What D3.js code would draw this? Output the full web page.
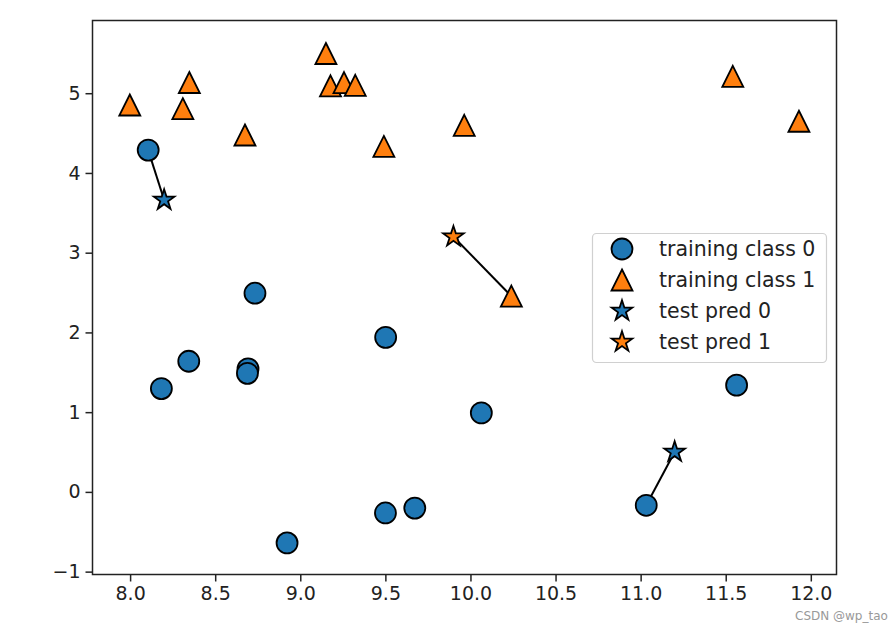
<!DOCTYPE html>
<html><head><meta charset="utf-8">
<script src="https://cdn.jsdelivr.net/npm/d3@7"></script>
<style>body{margin:0;background:#fff}text{font-family:"DejaVu Sans",sans-serif}</style>
</head><body><svg id="c" width="890" height="631"></svg>
<script>
const trainX = [9.96346605,11.0329545,11.54155807,8.69289001,8.1062269,8.30988863,11.93027136,9.67284681,8.34810316,8.67494727,9.17748385,10.24028948,8.68937095,8.92229526,9.49123469,9.25694192,7.99815287,8.18378052,8.7337095,9.32298256,10.06393839,9.50048972,8.34468785,9.50169345,9.15072323,11.563957];
const trainY = [4.59676542,-0.16816717,5.21116083,1.54322016,4.28695977,4.80623966,4.64866327,-0.20283165,5.13415623,4.47573059,5.09283177,2.45544401,1.48709629,-0.63993225,4.33224792,5.13284858,4.8525051,1.29564214,2.49162431,5.09840649,0.99078055,-0.26430318,1.63824349,1.93824624,5.49832246,1.3389402];
const trainClass = [1,0,1,0,0,1,1,0,1,1,1,1,0,0,1,1,1,0,0,1,0,0,0,0,1,0];
const testX = [8.2, 9.9, 11.2];
const testY = [3.66, 3.2, 0.5];
const testPred = [0, 1, 0];
const neighborIdx = [4, 11, 1];
const xTicks = [8.0,8.5,9.0,9.5,10.0,10.5,11.0,11.5,12.0];
const yTicks = [-1,0,1,2,3,4,5];
const legendLabels = ["training class 0","training class 1","test pred 0","test pred 1"];
const colors = ["#1f77b4","#ff7f0e"];

const L=92.5,R=836.5,T=20.5,B=574.5;
const x = d3.scaleLinear().domain([7.779,12.151]).range([L,R]);
const y = d3.scaleLinear().domain([-1.036,5.912]).range([B,T]);
const svg = d3.select("#c");

const xa = svg.append("g").attr("transform",`translate(0,${B})`)
  .call(d3.axisBottom(x).tickValues(xTicks).tickFormat(d3.format(".1f")).tickSize(7).tickPadding(5));
const ya = svg.append("g").attr("transform",`translate(${L},0)`)
  .call(d3.axisLeft(y).tickValues(yTicks).tickFormat(d=>d<0?"\u2212"+Math.abs(d):d).tickSize(7).tickPadding(5));
[xa,ya].forEach(a=>{a.select(".domain").remove();a.selectAll("line").attr("stroke","#222").attr("stroke-width",1.5);
  a.selectAll("text").attr("font-size",19).attr("fill","#222").attr("font-family","DejaVu Sans");});

svg.append("rect").attr("x",L).attr("y",T).attr("width",R-L).attr("height",B-T)
  .attr("fill","none").attr("stroke","#222").attr("stroke-width",1.5);

const g = svg.append("g");
g.selectAll("line.nb").data(testX.map((v,i)=>i)).join("line")
  .attr("x1",i=>x(testX[i])).attr("y1",i=>y(testY[i]))
  .attr("x2",i=>x(trainX[neighborIdx[i]])).attr("y2",i=>y(trainY[neighborIdx[i]]))
  .attr("stroke","#000").attr("stroke-width",2);

const S=21;
const tri = `M0,${-S/2}L${S/2},${S/2}L${-S/2},${S/2}Z`;
function starPath(r){const ri=r*0.381966;let p="";for(let k=0;k<10;k++){const a=-Math.PI/2+k*Math.PI/5;const rr=k%2?ri:r;p+=(k?"L":"M")+(rr*Math.cos(a)).toFixed(2)+","+(rr*Math.sin(a)).toFixed(2);}return p+"Z";}
const star = starPath(10.8);

function drawMarker(sel,type,color){
  if(type===0) sel.append("circle").attr("r",10.5).attr("fill",color).attr("stroke","#000").attr("stroke-width",1.8);
  else if(type===1) sel.append("path").attr("d",tri).attr("fill",color).attr("stroke","#000").attr("stroke-width",1.8);
  else sel.append("path").attr("d",star).attr("fill",color).attr("stroke","#000").attr("stroke-width",1.8);
}
[0,1].forEach(c=>{
  trainX.forEach((v,i)=>{ if(trainClass[i]!==c) return;
    const m=g.append("g").attr("transform",`translate(${x(v)},${y(trainY[i])})`);
    drawMarker(m,c,colors[c]);});
});
[0,1].forEach(c=>{
  testX.forEach((v,i)=>{ if(testPred[i]!==c) return;
    const m=g.append("g").attr("transform",`translate(${x(v)},${y(testY[i])})`);
    drawMarker(m,2,colors[c]);});
});

const lg = svg.append("g");
lg.append("rect").attr("x",592.5).attr("y",233.5).attr("width",234).attr("height",129).attr("rx",4)
  .attr("fill","#fff").attr("fill-opacity",0.8).attr("stroke","#d0d0d0").attr("stroke-width",1.2);
const ltypes=[0,1,2,2], lcols=[colors[0],colors[1],colors[0],colors[1]];
legendLabels.forEach((t,i)=>{
  const cy=249+i*31;
  const m=lg.append("g").attr("transform",`translate(622,${cy})`);
  drawMarker(m,ltypes[i],lcols[i]);
  lg.append("text").attr("x",659).attr("y",cy+7).attr("font-size",20.5).attr("fill","#222").text(t);
});

svg.append("text").attr("x",795).attr("y",620).attr("font-size",12).attr("fill","#999")
  .attr("font-family","Liberation Sans, Arial, sans-serif").text("CSDN @wp_tao");
</script></body></html>
